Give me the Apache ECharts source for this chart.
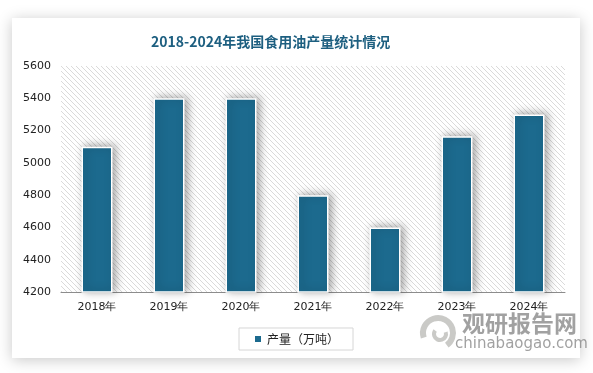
<!DOCTYPE html>
<html><head><meta charset="utf-8">
<script src="https://cdn.jsdelivr.net/npm/echarts@6/dist/echarts.min.js"></script>
<style>html,body{margin:0;padding:0;background:#fff}#c{width:593px;height:373px}</style>
</head><body><div id="c"></div>
<script>
const categories = ['2018年','2019年','2020年','2021年','2022年','2023年','2024年'];
const production = [5100, 5400, 5400, 4800, 4600, 5165, 5300];
const seriesName = '产量（万吨）';
const titleText = '2018-2024年我国食用油产量统计情况';

// hatch pattern
const pc = document.createElement('canvas');
pc.width = 5; pc.height = 5;
const pctx = pc.getContext('2d');
pctx.fillStyle = '#fff'; pctx.fillRect(0,0,5,5);
pctx.fillStyle = '#dadada';
for (let i = 0; i < 5; i++) { pctx.fillRect(i, i, 1, 1); }

const chart = echarts.init(document.getElementById('c'), null, {renderer:'canvas'});
chart.setOption({
  animation: false,
  backgroundColor: '#fff',
  graphic: [
    {type:'rect', z:-10, shape:{x:12,y:18,width:568,height:340}, style:{fill:'#fff', shadowBlur:14, shadowColor:'rgba(0,0,0,0.22)', shadowOffsetX:0, shadowOffsetY:2}},
    {type:'text', z:10, left:462, top:312, style:{text:'观研报告网', fill:'rgba(130,130,130,0.75)', font:'bold 23px "Noto Sans CJK SC"'}},
    {type:'text', z:10, left:455, top:337, style:{text:'chinabaogao.com', fill:'rgba(130,130,130,0.75)', font:'15px "DejaVu Sans"'}},
    {type:'arc', z:10, shape:{cx:438, cy:333, r:15, startAngle:Math.PI*0.9, endAngle:Math.PI*2.3}, style:{stroke:'rgba(180,180,175,0.7)', lineWidth:6, fill:null}},
    {type:'arc', z:10, shape:{cx:440, cy:334, r:6, startAngle:Math.PI*1.9, endAngle:Math.PI*3.2}, style:{stroke:'rgba(180,180,175,0.7)', lineWidth:4, fill:null}}
  ],
  title: {
    text: titleText, left: 146, top: 30,
    textStyle: {color:'#1d5f80', fontSize:14, fontWeight:'bold', fontFamily:'"Noto Sans CJK SC"'}
  },
  legend: {
    data: [seriesName], bottom: 23, left: 239,
    itemWidth: 8, itemHeight: 8, itemGap: 4,
    padding: [5, 14, 5, 14],
    borderColor: '#d6d6d6', borderWidth: 1,
    textStyle: {color:'#222', fontSize:12, fontFamily:'"Noto Sans CJK SC"'},
    icon: 'rect'
  },
  grid: {
    left: 61, right: 28, top: 66, bottom: 81,
    show: true, borderWidth: 0,
    backgroundColor: {image: pc, repeat: 'repeat'}
  },
  xAxis: {
    type: 'category', data: categories,
    axisLine: {show:true, lineStyle:{color:'#8c8c8c', width:1}},
    axisTick: {show:false},
    axisLabel: {color:'#222', fontSize:11, margin:10, fontFamily:'"DejaVu Sans"'}
  },
  yAxis: {
    type: 'value', min: 4200, max: 5600, interval: 200,
    axisLine: {show:false}, axisTick: {show:false},
    splitLine: {show:false},
    axisLabel: {color:'#222', fontSize:11, margin:10, fontFamily:'"DejaVu Sans"', formatter: v => String(v)}
  },
  series: [{
    name: seriesName, type: 'bar', data: production,
    barWidth: 31,
    itemStyle: {color:'#1c6a8e', borderColor:'#fff', borderWidth:1.5,
      shadowBlur: 8, shadowColor:'rgba(0,0,0,0.35)', shadowOffsetX:3, shadowOffsetY:-1}
  }]
});
</script></body></html>
